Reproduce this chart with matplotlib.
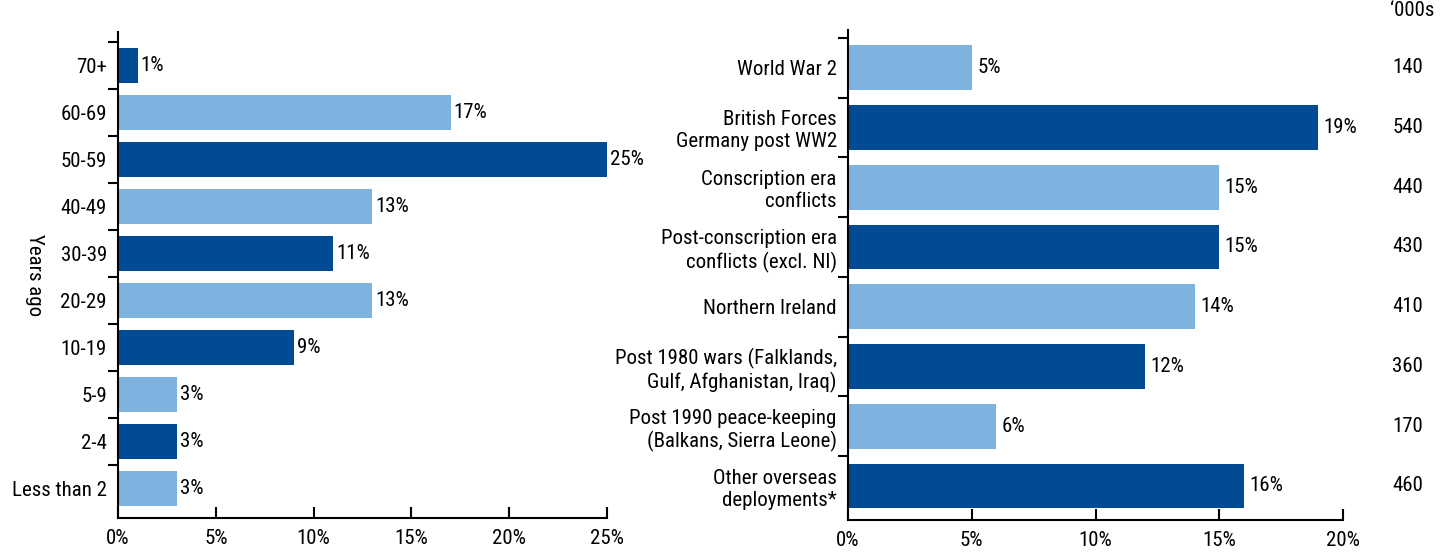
import numpy as np
import matplotlib
matplotlib.use("Agg")
import matplotlib.pyplot as plt
from matplotlib import font_manager as fm

# pick a narrow font if one is installed
fonts = fm.fontManager.ttflist
chosen = None
for want in ['Liberation Sans Narrow', 'Roboto Condensed', 'Open Sans Condensed', 'Noto Sans Condensed']:
    if any(f.name == want for f in fonts):
        chosen = (want, 'normal')
        break
if chosen is None:
    for f in fonts:
        if f.stretch in ('condensed', 'semi-condensed', 'extra-condensed') and f.style == 'normal' and f.weight in (400, 'normal'):
            chosen = (f.name, f.stretch)
            break
if chosen is None:
    chosen = ('DejaVu Sans', 'normal')
    fsize = 12.5
else:
    fsize = 15

plt.rcParams['font.family'] = [chosen[0], 'DejaVu Sans']
plt.rcParams['font.stretch'] = chosen[1]
plt.rcParams['font.size'] = fsize

# left panel: years ago
age_groups = ['70+', '60-69', '50-59', '40-49', '30-39', '20-29', '10-19', '5-9', '2-4', 'Less than 2']
age_pct = [1, 17, 25, 13, 11, 13, 9, 3, 3, 3]

# right panel: conflict era
eras = ['World War 2', 'British Forces\nGermany post WW2', 'Conscription era\nconflicts',
        'Post-conscription era\nconflicts (excl. NI)', 'Northern Ireland',
        'Post 1980 wars (Falklands,\nGulf, Afghanistan, Iraq)',
        'Post 1990 peace-keeping\n(Balkans, Sierra Leone)', 'Other overseas\ndeployments*']
era_pct = [5, 19, 15, 15, 14, 12, 6, 16]
era_thousands = [140, 540, 440, 430, 410, 360, 170, 460]

dark = '#004B93'
light = '#7EB3E0'

fig = plt.figure(figsize=(14.54, 5.57), dpi=100)
ax1 = fig.add_axes([0.0812, 0.070, 0.3363, 0.8725])
ax2 = fig.add_axes([0.5832, 0.0664, 0.3405, 0.8796])


def style(ax, n, xmax, step, top_pad, bot_pad, labels):
    ax.set_xlim(0, xmax)
    ax.set_ylim(-0.5 - bot_pad, n - 0.5 + top_pad)
    ax.set_xticks(np.arange(0, xmax + 0.1, step))
    ax.set_xticklabels(['%d%%' % v for v in np.arange(0, xmax + 0.1, step)])
    ax.set_yticks(np.arange(n))
    ax.set_yticklabels(labels[::-1])
    ax.set_yticks(np.arange(n) + 0.5, minor=True)
    ax.tick_params(axis='y', which='major', length=0, pad=8)
    ax.tick_params(axis='y', which='minor', direction='out', length=7, width=1.5)
    ax.tick_params(axis='x', direction='in', length=8, width=1.5, pad=8)
    for s in ['top', 'right']:
        ax.spines[s].set_visible(False)
    for s in ['left', 'bottom']:
        ax.spines[s].set_linewidth(1.5)


# left
n1 = len(age_groups)
pos1 = np.arange(n1)[::-1]
cols1 = [dark if i % 2 == 0 else light for i in range(n1)]
b1 = ax1.barh(pos1, age_pct, height=0.76, color=cols1)
ax1.bar_label(b1, labels=['%d%%' % v for v in age_pct], padding=2)
style(ax1, n1, 25, 5, 0.21, 0.13, age_groups)
ax1.set_ylabel('Years ago', rotation=-90, va='center')
ax1.yaxis.set_label_coords(-0.17, 0.5)

# right
n2 = len(eras)
pos2 = np.arange(n2)[::-1]
cols2 = [light if i % 2 == 0 else dark for i in range(n2)]
b2 = ax2.barh(pos2, era_pct, height=0.75, color=cols2)
ax2.bar_label(b2, labels=['%d%%' % v for v in era_pct], padding=4)
style(ax2, n2, 20, 5, 0.13, 0.07, eras)
for p, v in zip(pos2, era_thousands):
    ax2.text(1.13, p, str(v), transform=ax2.get_yaxis_transform(), ha='center', va='center')
ax2.text(1.14, 1.02, '\u2018000s', transform=ax2.transAxes, ha='center', va='bottom')

fig.savefig('out.png', dpi=100)
